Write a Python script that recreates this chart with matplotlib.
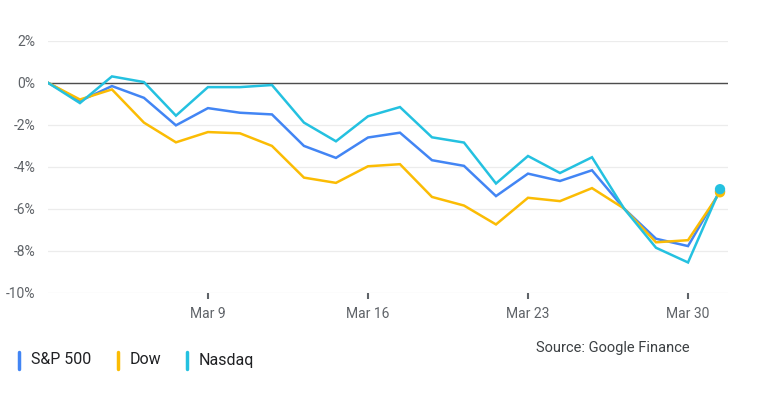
import numpy as np
import matplotlib
matplotlib.use("Agg")
from matplotlib import pyplot as plt
from matplotlib.lines import Line2D

plt.rcParams["font.family"] = ["Roboto", "DejaVu Sans"]

# Trading days in March (index positions on the x axis)
days = ["Mar 2", "Mar 3", "Mar 4", "Mar 5", "Mar 6",
        "Mar 9", "Mar 10", "Mar 11", "Mar 12", "Mar 13",
        "Mar 16", "Mar 17", "Mar 18", "Mar 19", "Mar 20",
        "Mar 23", "Mar 24", "Mar 25", "Mar 26", "Mar 27",
        "Mar 30", "Mar 31"]
tick_days = ["Mar 9", "Mar 16", "Mar 23", "Mar 30"]

# Percent change since Mar 2
sp500 = [0.0, -0.87, -0.16, -0.72, -2.03, -1.21, -1.43, -1.51, -3.01, -3.58, -2.61,
         -2.38, -3.69, -3.96, -5.40, -4.33, -4.68, -4.17, -5.99, -7.43, -7.78, -5.17]
dow = [0.0, -0.80, -0.32, -1.90, -2.84, -2.35, -2.41, -3.01, -4.52, -4.77, -3.98,
       -3.88, -5.44, -5.85, -6.75, -5.48, -5.64, -5.02, -5.99, -7.60, -7.50, -5.22]
nasdaq = [0.0, -0.97, 0.30, 0.03, -1.57, -0.21, -0.21, -0.11, -1.90, -2.79, -1.60,
          -1.16, -2.60, -2.85, -4.80, -3.49, -4.30, -3.55, -5.99, -7.86, -8.56, -5.07]

names = ["S&P 500", "Dow", "Nasdaq"]
colors = ["#4285F4", "#FBBC04", "#24C1E0"]
series = [sp500, dow, nasdaq]

x = np.arange(len(days))

fig = plt.figure(figsize=(7.73, 3.98), dpi=100)
ax = fig.add_axes([0.062, 0.2646, 0.8798, 0.6331])

for val in range(-10, 3, 2):
    ax.axhline(val, color="#ececec", lw=0.9, zorder=0)
ax.axhline(0, color="#4d4d4d", lw=1.0, zorder=1)

for vals, c in zip(series, colors):
    ax.plot(x, vals, color=c, lw=1.8, zorder=3, solid_joinstyle="miter")
for vals, c in zip(series, colors):
    ax.scatter([x[-1]], [vals[-1]], s=55, color=c, zorder=4, edgecolors="none")

ax.set_xlim(0, 21.25)
ax.set_ylim(-10, 2)
ax.set_yticks(range(-10, 3, 2))
ax.set_yticklabels([f"{v}%" for v in range(-10, 3, 2)])
ax.set_xticks([days.index(d) for d in tick_days])
ax.set_xticklabels(tick_days)

for s in ax.spines.values():
    s.set_visible(False)
ax.tick_params(axis="y", length=0, pad=9, labelsize=10, labelcolor="#5f6368")
ax.tick_params(axis="x", length=4.5, width=1.5, color="#5f6368", pad=6,
               labelsize=10, labelcolor="#5f6368")

# Legend: coloured bars with labels
leg_x = [19, 118, 187]
for name, c, lx in zip(names, colors, leg_x):
    fig.add_artist(Line2D([lx / 773, lx / 773], [1 - 352 / 398, 1 - 369 / 398],
                          color=c, lw=2.5, solid_capstyle="round"))
    fig.text((lx + 12) / 773, 1 - 360 / 398, name, fontsize=11.5,
             color="#202124", va="center", ha="left")

fig.text(536 / 773, 1 - 348 / 398, "Source: Google Finance", fontsize=10.5,
         color="#3c4043", va="center", ha="left")

fig.savefig("out.png", dpi=100)
